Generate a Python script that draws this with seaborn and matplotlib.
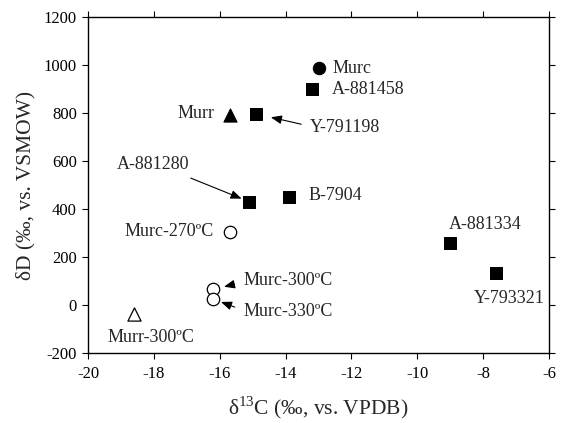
import pandas as pd
import matplotlib
matplotlib.use('Agg')
import matplotlib.pyplot as plt
import seaborn as sns

# --- data ---
samples = ['Murc', 'A-881458', 'Murr', 'Y-791198', 'A-881280', 'B-7904',
           'Murc-270ºC', 'A-881334', 'Y-793321', 'Murc-300ºC', 'Murc-330ºC',
           'Murr-300ºC']
d13c = [-13.0, -13.2, -15.7, -14.9, -15.1, -13.9,
        -15.7, -9.0, -7.6, -16.2, -16.2, -18.6]
dD = [987, 900, 793, 796, 430, 450,
      305, 257, 132, 65, 25, -38]
kind = ['murc', 'cm', 'murr', 'cm', 'cm', 'cm',
        'murc_heat', 'cm', 'cm', 'murc_heat', 'murc_heat', 'murr_heat']

df = pd.DataFrame({'sample': samples, 'd13C': d13c, 'dD': dD, 'kind': kind})

sns.set_style('white')
plt.rcParams['font.family'] = ['Liberation Serif', 'DejaVu Serif']
plt.rcParams['axes.unicode_minus'] = False

fig = plt.figure(figsize=(5.68, 4.23), dpi=100)
ax = fig.add_axes([0.155, 0.1655, 0.8115, 0.7945])

styles = {
    'cm':        dict(marker='s', s=80, color='black', edgecolor='black'),
    'murc':      dict(marker='o', s=80, color='black', edgecolor='black'),
    'murr':      dict(marker='^', s=90, color='black', edgecolor='black'),
    'murc_heat': dict(marker='o', s=80, color='white', edgecolor='black', linewidth=0.9),
    'murr_heat': dict(marker='^', s=90, color='white', edgecolor='black', linewidth=0.9),
}
for k, st in styles.items():
    sub = df[df['kind'] == k]
    sns.scatterplot(data=sub, x='d13C', y='dD', ax=ax, legend=False, zorder=3, **st)

# label offsets in pixels (x right, y up), alignment, optional arrow
labels = {
    'Murc':       ((14, 0), 'left', None),
    'A-881458':   ((20, -1), 'left', None),
    'Murr':       ((-15, 1), 'right', None),
    'Y-791198':   ((54, -14), 'left', dict(relpos=(0, 0.6), shrinkA=4, shrinkB=11)),
    'A-881280':   ((-96, 37), 'center', dict(relpos=(0.85, 0), shrinkA=3, shrinkB=6)),
    'B-7904':     ((20, 1), 'left', None),
    'Murc-270ºC': ((-16, 0), 'right', None),
    'A-881334':   ((-1, 19), 'left', None),
    'Y-793321':   ((13, -25), 'center', None),
    'Murc-300ºC': ((30, 9), 'left', dict(relpos=(0, 0.4), shrinkA=4, shrinkB=8)),
    'Murc-330ºC': ((30, -13), 'left', dict(relpos=(0, 0.6), shrinkA=4, shrinkB=6)),
    'Murr-300ºC': ((17, -23), 'center', None),
}
for _, row in df.iterrows():
    off, ha, arr = labels[row['sample']]
    kw = {}
    if arr is not None:
        kw['arrowprops'] = dict(arrowstyle='-|>,head_length=0.5,head_width=0.2',
                                color='black', lw=0.8, **arr)
    ax.annotate(row['sample'], xy=(row['d13C'], row['dD']), xytext=off,
                textcoords='offset pixels', ha=ha, va='center',
                fontsize=13, **kw)

ax.set_xlim(-20, -6)
ax.set_ylim(-200, 1200)
ax.set_xticks(range(-20, -5, 2))
ax.set_yticks(range(-200, 1201, 200))
ax.tick_params(direction='out', length=4, width=0.8, labelsize=12,
               top=True, right=True, labeltop=False, labelright=False,
               bottom=True, left=True, colors='black')
ax.tick_params(axis='x', pad=5.5)
ax.tick_params(axis='y', pad=4)
for sp in ax.spines.values():
    sp.set_color('black')
    sp.set_linewidth(1.0)
    sp.set_visible(True)

ax.set_xlabel(r'δ$^{\mathregular{13}}$C (‰, vs. VPDB)', fontsize=15.5, labelpad=9)
ax.set_ylabel('δD (‰, vs. VSMOW)', fontsize=15.5, labelpad=6)

fig.savefig('out.png', dpi=100)
plt.close(fig)
